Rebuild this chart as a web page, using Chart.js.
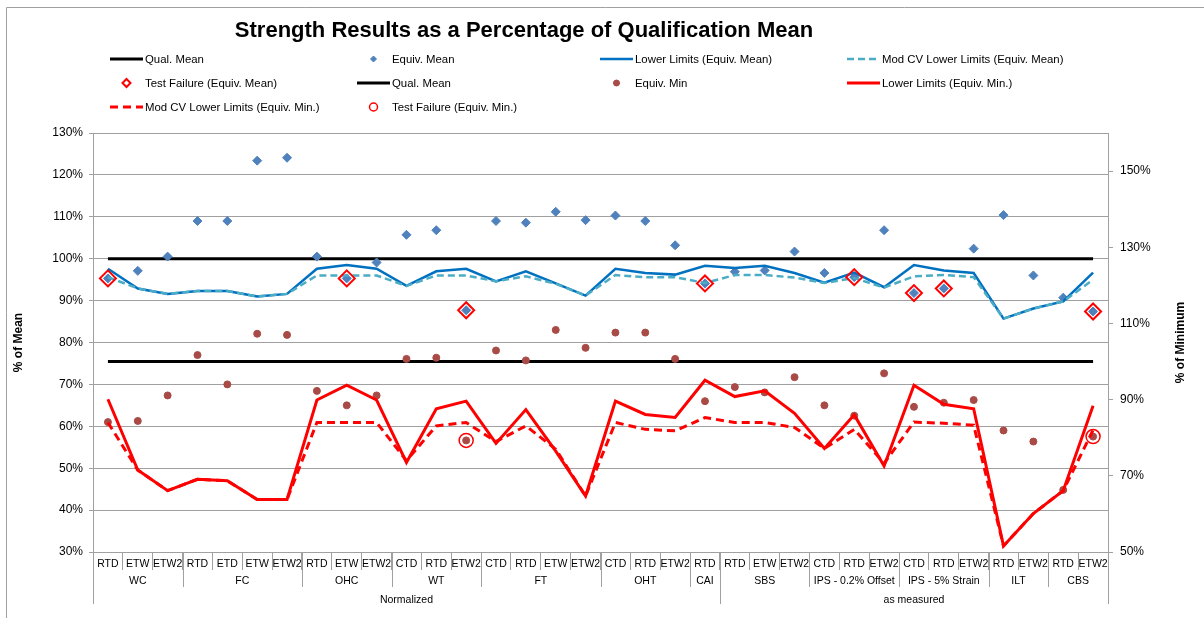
<!DOCTYPE html>
<html>
<head>
<meta charset="utf-8">
<title>Strength Results</title>
<script src="https://cdn.jsdelivr.net/npm/chart.js@4.4.1/dist/chart.umd.min.js"></script>
<style>
  html, body { margin: 0; padding: 0; background: #fff; }
  #wrap { width: 1204px; height: 618px; }
</style>
</head>
<body>
<div id="wrap"><canvas id="myChart" width="1204" height="618"></canvas></div>
<script>
// ---- data ----
const chartTitle = 'Strength Results as a Percentage of Qualification Mean';

const conditions = ['RTD', 'ETW', 'ETW2', 'RTD', 'ETD', 'ETW', 'ETW2', 'RTD', 'ETW', 'ETW2',
  'CTD', 'RTD', 'ETW2', 'CTD', 'RTD', 'ETW', 'ETW2', 'CTD', 'RTD', 'ETW2', 'RTD',
  'RTD', 'ETW', 'ETW2', 'CTD', 'RTD', 'ETW2', 'CTD', 'RTD', 'ETW2', 'RTD', 'ETW2', 'RTD', 'ETW2'];
const tests = ['WC', 'FC', 'OHC', 'WT', 'FT', 'OHT', 'CAI', 'SBS', 'IPS - 0.2% Offset', 'IPS - 5% Strain', 'ILT', 'CBS'];
const testSizes = [3, 4, 3, 3, 4, 3, 1, 3, 3, 3, 2, 2];
const basis = ['Normalized', 'as measured'];
const basisSizes = [21, 13];

const leftTicks = [30, 40, 50, 60, 70, 80, 90, 100, 110, 120, 130];
const rightTicks = [50, 70, 90, 110, 130, 150];

const qualMeanPct = [100, 100, 100, 100, 100, 100, 100, 100, 100, 100, 100, 100, 100, 100, 100, 100, 100,
  100, 100, 100, 100, 100, 100, 100, 100, 100, 100, 100, 100, 100, 100, 100, 100, 100];
const qualMinPct = [100, 100, 100, 100, 100, 100, 100, 100, 100, 100, 100, 100, 100, 100, 100, 100, 100,
  100, 100, 100, 100, 100, 100, 100, 100, 100, 100, 100, 100, 100, 100, 100, 100, 100];

const equivMean = [95.3, 97.1, 100.5, 109.0, 109.0, 123.4, 124.1, 100.5, 95.3, 99.1, 105.7, 106.8, 87.7,
  109.0, 108.6, 111.2, 109.2, 110.3, 109.0, 103.2, 94.1, 96.9, 97.2, 101.7, 96.6, 95.6, 106.8,
  91.8, 92.9, 102.4, 110.4, 96.0, 90.7, 87.4];
const lowerMean = [97.6, 92.9, 91.6, 92.3, 92.3, 91.0, 91.6, 97.6, 98.5, 97.6, 93.5, 97.0, 97.6,
  94.6, 97.0, 94.1, 91.2, 97.6, 96.6, 96.2, 98.3, 97.8, 98.3, 96.6, 94.3, 96.7, 93.2,
  98.5, 97.2, 96.6, 85.7, 88.1, 89.8, 96.7];
const modCvMean = [95.6, 92.9, 91.6, 92.3, 92.3, 91.0, 91.6, 96.0, 96.0, 96.0, 93.5, 96.0, 96.0,
  94.6, 95.8, 94.0, 91.2, 96.1, 95.6, 95.6, 94.2, 96.1, 96.1, 95.5, 94.2, 95.4, 93.1,
  95.8, 96.1, 95.6, 85.7, 88.1, 89.8, 95.0];
const failMean = [95.3, null, null, null, null, null, null, null, 95.3, null, null, null, 87.7,
  null, null, null, null, null, null, null, 94.1, null, null, null, null, 95.6, null,
  91.8, 92.9, null, null, null, null, 87.4];

const equivMin = [84.1, 84.4, 91.1, 101.7, 94.0, 107.3, 107.0, 92.3, 88.5, 91.1, 100.7, 101.0, 79.3,
  102.9, 100.3, 108.3, 103.6, 107.6, 107.6, 100.7, 89.6, 93.3, 91.9, 95.9, 88.5, 85.8, 96.9,
  88.1, 89.2, 89.9, 81.9, 79.0, 66.3, 80.3];
const lowerMin = [90.1, 71.5, 66.1, 69.1, 68.7, 63.8, 63.8, 89.9, 93.8, 89.9, 73.5, 87.6, 89.6,
  78.5, 87.4, 76.5, 64.7, 89.6, 86.1, 85.3, 95.1, 90.8, 92.3, 86.4, 77.2, 86.0, 72.6,
  93.8, 88.8, 87.6, 51.6, 60.1, 66.1, 88.4];
const modCvMin = [84.0, 71.5, 66.1, 69.1, 68.7, 63.8, 63.8, 84.0, 84.0, 84.0, 74.0, 83.1, 84.0,
  79.0, 83.1, 77.0, 64.7, 84.0, 82.2, 81.8, 85.3, 84.0, 84.0, 82.7, 77.2, 82.2, 73.3,
  84.1, 83.8, 83.3, 51.6, 60.1, 66.1, 82.0];
const failMin = [null, null, null, null, null, null, null, null, null, null, null, null, 79.3,
  null, null, null, null, null, null, null, null, null, null, null, null, null, null,
  null, null, null, null, null, null, 80.3];

// ---- helpers ----
const FONT = '"Liberation Sans", Arial, sans-serif';
const GRAY = '#a0a0a0';

function lineSet(label, data, color, width, dash, axis) {
  return {
    label: label, data: data, yAxisID: axis,
    borderColor: color, backgroundColor: color, borderWidth: width, borderDash: dash || [],
    pointRadius: 0, pointHoverRadius: 0, tension: 0, fill: false
  };
}

function pointSet(label, data, style, radius, fillColor, strokeColor, width, axis) {
  return {
    label: label, data: data, yAxisID: axis, showLine: false,
    pointStyle: style, pointRadius: radius, pointHoverRadius: radius,
    pointBackgroundColor: fillColor, pointBorderColor: strokeColor, pointBorderWidth: width,
    backgroundColor: fillColor, borderColor: strokeColor
  };
}

function drawMarker(ctx, style, x, y, r, fill, stroke, lw) {
  ctx.beginPath();
  if (style === 'rectRot') {
    ctx.moveTo(x, y - r);
    ctx.lineTo(x + r, y);
    ctx.lineTo(x, y + r);
    ctx.lineTo(x - r, y);
    ctx.closePath();
  } else {
    ctx.arc(x, y, r, 0, Math.PI * 2);
  }
  ctx.fillStyle = fill;
  ctx.fill();
  ctx.lineWidth = lw;
  ctx.strokeStyle = stroke;
  ctx.stroke();
}

// legend grid + title + grouped category axis, drawn after the chart
const legendCols = [110, 357, 600, 847];
const legendRows = [59, 83, 107];

const chartDecor = {
  id: 'chartDecor',
  afterDraw(chart) {
    const ctx = chart.ctx;
    const area = chart.chartArea;
    const xs = chart.scales.x;
    ctx.save();

    // outer chart border (top and left visible)
    ctx.strokeStyle = GRAY;
    ctx.lineWidth = 1;
    ctx.setLineDash([]);
    ctx.beginPath();
    ctx.moveTo(6.5, 618);
    ctx.lineTo(6.5, 7.5);
    ctx.lineTo(1204, 7.5);
    ctx.stroke();

    // title
    ctx.fillStyle = '#000';
    ctx.font = 'bold 22px ' + FONT;
    ctx.textAlign = 'center';
    ctx.textBaseline = 'middle';
    ctx.fillText(chartTitle, 524, 31);

    // legend in 4 fixed columns
    ctx.font = '11.4px ' + FONT;
    ctx.textAlign = 'left';
    chart.data.datasets.forEach(function (ds, i) {
      const x = legendCols[i % 4];
      const y = legendRows[Math.floor(i / 4)];
      if (ds.showLine === false) {
        const r = ds.pointRadius > 6 ? 4 : 3;
        const fill = ds.pointBackgroundColor;
        drawMarker(ctx, ds.pointStyle, x + 16.5, y, r, fill, ds.pointBorderColor, Math.min(ds.pointBorderWidth, 2));
      } else {
        ctx.strokeStyle = ds.borderColor;
        ctx.lineWidth = ds.borderWidth;
        ctx.setLineDash(ds.borderDash);
        ctx.beginPath();
        ctx.moveTo(x, y);
        ctx.lineTo(x + 33, y);
        ctx.stroke();
        ctx.setLineDash([]);
      }
      ctx.fillStyle = '#000';
      ctx.fillText(ds.label, x + 35, y + 0.5);
    });

    // right axis title (reads bottom to top like the left one)
    ctx.save();
    ctx.translate(1181, (area.top + area.bottom) / 2);
    ctx.rotate(-Math.PI / 2);
    ctx.font = 'bold 12px ' + FONT;
    ctx.textAlign = 'center';
    ctx.fillText('% of Minimum', 0, 0);
    ctx.restore();

    // grouped category rows
    const step = xs.getPixelForValue(1) - xs.getPixelForValue(0);
    const bottom = area.bottom;
    ctx.strokeStyle = GRAY;
    ctx.lineWidth = 1;
    ctx.font = '10.5px ' + FONT;
    ctx.textAlign = 'center';
    ctx.fillStyle = '#000';

    let start = 0;
    testSizes.forEach(function (n, g) {
      const x0 = xs.getPixelForValue(start) - step / 2;
      const x1 = xs.getPixelForValue(start + n - 1) + step / 2;
      const px = Math.round(x0) + 0.5;
      ctx.beginPath();
      ctx.moveTo(px, bottom);
      ctx.lineTo(px, bottom + 35);
      ctx.stroke();
      ctx.fillText(tests[g], (x0 + x1) / 2, bottom + 29);
      start += n;
    });

    start = 0;
    basisSizes.forEach(function (n, g) {
      const x0 = xs.getPixelForValue(start) - step / 2;
      const x1 = xs.getPixelForValue(start + n - 1) + step / 2;
      [x0, x1].forEach(function (xx) {
        const px = Math.round(xx) + 0.5;
        ctx.beginPath();
        ctx.moveTo(px, bottom);
        ctx.lineTo(px, bottom + 52);
        ctx.stroke();
      });
      ctx.fillText(basis[g], (x0 + x1) / 2, bottom + 48);
      start += n;
    });

    ctx.restore();
  }
};

// ---- chart ----
const datasets = [
  lineSet('Qual. Mean', qualMeanPct, '#000000', 3, null, 'y'),
  pointSet('Equiv. Mean', equivMean, 'rectRot', 4.5, '#4F81BD', '#4F81BD', 1, 'y'),
  lineSet('Lower Limits (Equiv. Mean)', lowerMean, '#0070C0', 2.5, null, 'y'),
  lineSet('Mod CV Lower Limits (Equiv. Mean)', modCvMean, '#4BACC6', 2.5, [7, 4], 'y'),
  pointSet('Test Failure (Equiv. Mean)', failMean, 'rectRot', 8, 'rgba(255,255,255,0)', '#FF0000', 2, 'y'),
  lineSet('Qual. Mean', qualMinPct, '#000000', 3, null, 'y1'),
  pointSet('Equiv. Min', equivMin, 'circle', 3.5, '#A84B47', '#A84B47', 1, 'y1'),
  lineSet('Lower Limits (Equiv. Min.)', lowerMin, '#FF0000', 3, null, 'y1'),
  lineSet('Mod CV Lower Limits (Equiv. Min.)', modCvMin, '#FF0000', 3, [8, 5], 'y1'),
  pointSet('Test Failure (Equiv. Min.)', failMin, 'circle', 7, 'rgba(255,255,255,0)', '#FF0000', 1.5, 'y1')
];
// like Excel: later series are painted on top
datasets.forEach(function (ds, i) { ds.order = datasets.length - i; });

const ctx = document.getElementById('myChart').getContext('2d');
const myChart = new Chart(ctx, {
  type: 'line',
  data: { labels: conditions, datasets: datasets },
  options: {
    responsive: false,
    animation: false,
    devicePixelRatio: 1,
    layout: { padding: { top: 133, left: 0, right: 0, bottom: 0 } },
    plugins: {
      legend: { display: false },
      title: { display: false },
      tooltip: { enabled: false }
    },
    scales: {
      x: {
        type: 'category',
        offset: true,
        grid: { display: true, offset: true, drawOnChartArea: false, drawTicks: true, tickLength: 18, color: GRAY },
        border: { display: true, color: GRAY },
        ticks: {
          autoSkip: false, maxRotation: 0, minRotation: 0, padding: -12,
          color: '#000', font: { family: FONT, size: 10.5 }
        },
        afterFit: function (s) { s.height = 66; }
      },
      y: {
        position: 'left',
        min: 30, max: 130,
        afterBuildTicks: function (s) { s.ticks = leftTicks.map(function (v) { return { value: v }; }); },
        grid: { color: GRAY, tickLength: 4 },
        border: { display: true, color: GRAY },
        ticks: {
          padding: 6, color: '#000', font: { family: FONT, size: 12 },
          callback: function (v) { return v + '%'; }
        },
        title: {
          display: true, text: '% of Mean', color: '#000',
          font: { family: FONT, size: 12, weight: 'bold' },
          padding: { top: 11, bottom: 0 }
        },
        afterFit: function (s) { s.width = 93; }
      },
      y1: {
        position: 'right',
        min: 50, max: 160,
        afterBuildTicks: function (s) { s.ticks = rightTicks.map(function (v) { return { value: v }; }); },
        grid: { drawOnChartArea: false, color: GRAY, tickLength: 5 },
        border: { display: true, color: GRAY },
        ticks: {
          padding: 7, color: '#000', font: { family: FONT, size: 12 },
          callback: function (v) { return v + '%'; }
        },
        afterFit: function (s) { s.width = 96; }
      }
    }
  },
  plugins: [chartDecor]
});
</script>
</body>
</html>
